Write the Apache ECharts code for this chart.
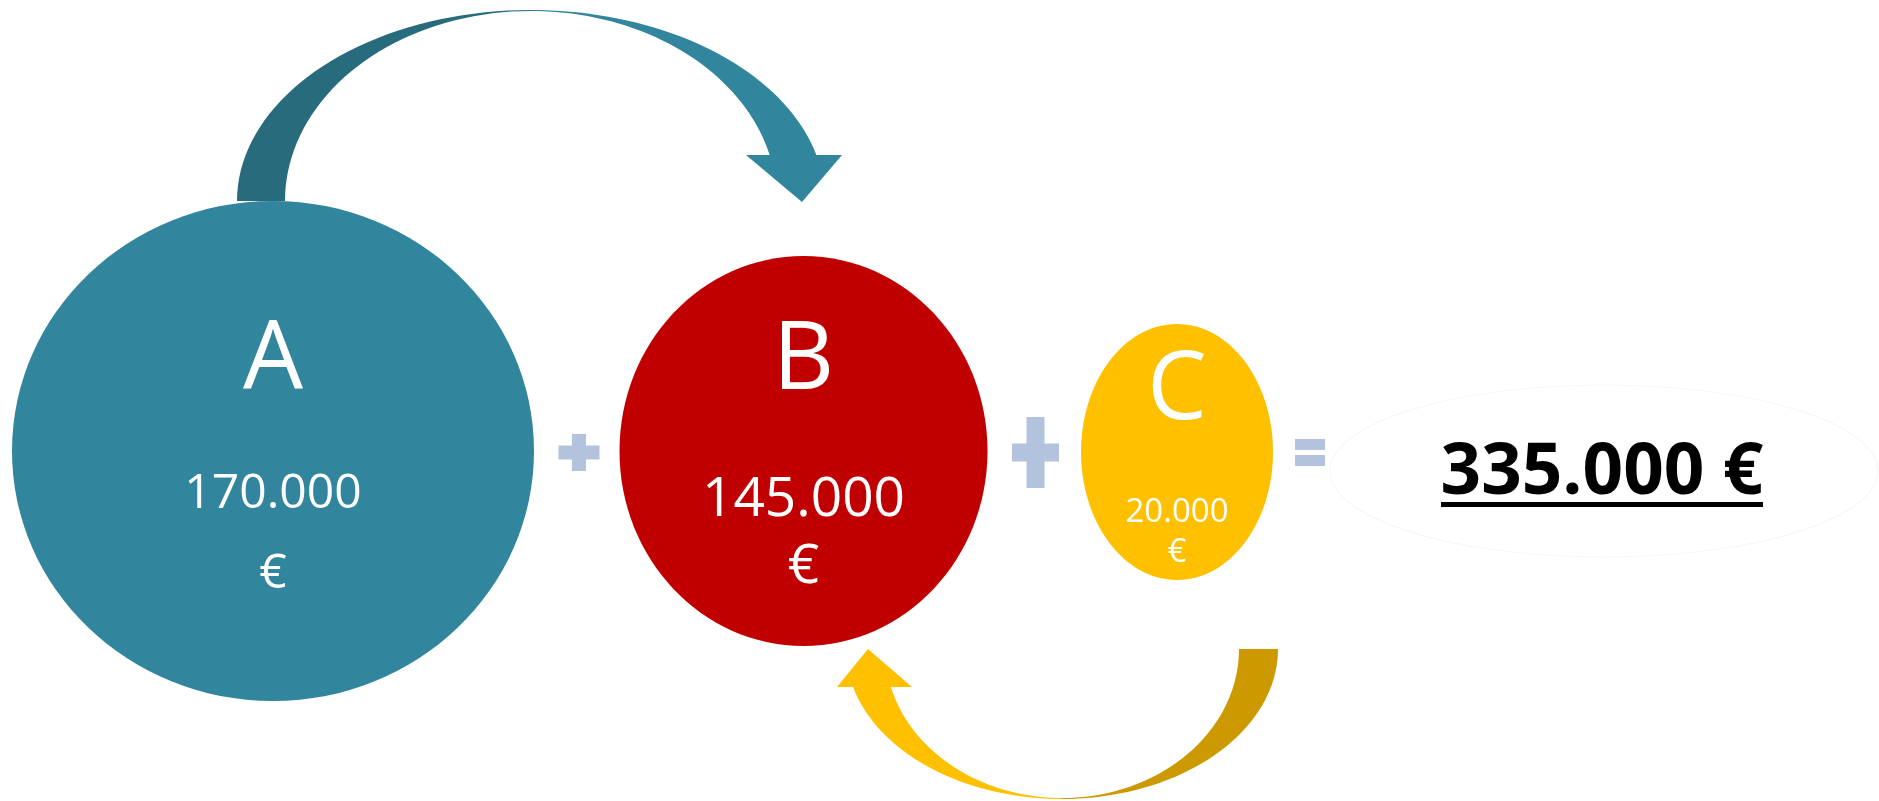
<!DOCTYPE html>
<html><head><meta charset="utf-8">
<script src="https://cdn.jsdelivr.net/npm/echarts@6/dist/echarts.min.js"></script>
<style>html,body{margin:0;padding:0;background:#fff;overflow:hidden}#c{width:1879px;height:801px}</style>
</head><body><div id="c"></div>
<script>
// ---- data ----
const categories = ['A', 'B', 'C'];
const values = [170000, 145000, 20000];
const operators = ['+', '+', '='];
const flows = [['A', 'B'], ['C', 'B']];
const currency = '€';

// ---- layout & style (hidden axes use pixel units) ----
const W = 1879, H = 801;
const FONT = '"Open Sans", "Liberation Sans", sans-serif';
const bubbleLayout = [
  { cx: 273, cy: 451, rx: 261, ry: 250, letterDy: -89, valueDy: 43, euroDy: 123, letterSize: 95, valueSize: 48 },
  { cx: 803.5, cy: 451, rx: 184, ry: 195, letterDy: -89, valueDy: 49, euroDy: 116, letterSize: 95, valueSize: 55 },
  { cx: 1177, cy: 452, rx: 96, ry: 128, letterDy: -60, valueDy: 61, euroDy: 101, letterSize: 95, valueSize: 33 }
];
const bubbleColors = ['#31859C', '#C00000', '#FFC000'];
const arrowLayout = [
  { cx: 531, cy: 201, orx: 294, ory: 191, irx: 246, iry: 190, dir: -1, endY: 155,
    head: [[842, 155], [802, 202], [746, 155]], tailColor: '#286B7D', headColor: '#31859C', tailSide: -1 },
  { cx: 1062, cy: 649, orx: 216, ory: 150, irx: 177, iry: 149, dir: 1, endY: 687,
    head: [[837, 687], [868, 649], [912, 687]], tailColor: '#CC9A00', headColor: '#FFC000', tailSide: 1 }
];
const opLayout = [
  { cx: 579, cy: 452.5, w: 41, h: 37, t: 14 },
  { cx: 1035.5, cy: 452.5, w: 47, h: 71, t: 18 },
  { cx: 1310, cy: 452.5, w: 30, h: 27, t: 11 }
];
const opColor = '#B4C3DD';
const totalLayout = { cx: 1602, cy: 474, size: 71, ulX0: 1441, ulX1: 1763, ulY: 502, ulH: 5,
  ecx: 1604, ecy: 471, erx: 274, ery: 86 };

function fmt(n) { return String(n).replace(/\B(?=(\d{3})+(?!\d))/g, '.'); }
const total = values.reduce((a, b) => a + b, 0);

function arcPts(L, rx, ry, a0, a1, steps) {
  const pts = [];
  for (let k = 0; k <= steps; k++) {
    const a = (a0 + (a1 - a0) * k / steps) * Math.PI / 180;
    pts.push([L.cx + rx * Math.cos(a), L.cy + L.dir * ry * Math.sin(a)]);
  }
  return pts;
}

const chart = echarts.init(document.getElementById('c'), null, { renderer: 'canvas' });
chart.setOption({
  animation: false,
  backgroundColor: '#ffffff',
  grid: { left: 0, top: 0, width: W, height: H },
  xAxis: { type: 'value', min: 0, max: W, show: false },
  yAxis: { type: 'value', min: 0, max: H, inverse: true, show: false },
  series: [
    {
      type: 'custom', coordinateSystem: 'cartesian2d', silent: true,
      data: [[0, total]],
      renderItem: function (params, api) {
        const T = totalLayout;
        const c = api.coord([T.ecx, T.ecy]);
        const s = api.size([T.erx, T.ery]);
        const t = api.coord([T.cx, T.cy]);
        const u0 = api.coord([T.ulX0, T.ulY]);
        const u1 = api.coord([T.ulX1, T.ulY + T.ulH]);
        return { type: 'group', children: [
          { type: 'ellipse', shape: { cx: c[0], cy: c[1], rx: s[0], ry: s[1] },
            style: { fill: '#ffffff', stroke: '#F7F7F7', lineWidth: 1.2 } },
          { type: 'text', x: t[0], y: t[1],
            style: { text: fmt(api.value(1)) + ' ' + currency, fill: '#000000',
              font: 'bold ' + T.size + 'px ' + FONT, align: 'center', verticalAlign: 'middle' } },
          { type: 'rect', shape: { x: u0[0], y: u0[1], width: u1[0] - u0[0], height: u1[1] - u0[1] },
            style: { fill: '#000000' } }
        ] };
      }
    },
    {
      type: 'custom', coordinateSystem: 'cartesian2d', silent: true,
      data: flows.map((f, i) => [i, categories.indexOf(f[0]), categories.indexOf(f[1])]),
      renderItem: function (params, api) {
        const L = arrowLayout[api.value(0)];
        const toPx = p => api.coord(p);
        const tailA = L.tailSide < 0 ? 180 : 0;
        const tail = arcPts(L, L.orx, L.ory, tailA, 90, 40).concat(arcPts(L, L.irx, L.iry, 90, tailA, 40));
        const headA = L.tailSide < 0 ? 0 : 180;
        const dy = Math.abs(L.endY - L.cy);
        const ao = Math.asin(dy / L.ory) * 180 / Math.PI;
        const ai = Math.asin(dy / L.iry) * 180 / Math.PI;
        const aoEnd = headA === 0 ? ao : 180 - ao;
        const aiEnd = headA === 0 ? ai : 180 - ai;
        const head = arcPts(L, L.orx, L.ory, 90, aoEnd, 40)
          .concat(L.head)
          .concat(arcPts(L, L.irx, L.iry, aiEnd, 90, 40));
        return { type: 'group', children: [
          { type: 'polygon', shape: { points: tail.map(toPx) }, style: { fill: L.tailColor } },
          { type: 'polygon', shape: { points: head.map(toPx) }, style: { fill: L.headColor } }
        ] };
      }
    },
    {
      type: 'custom', coordinateSystem: 'cartesian2d', silent: true,
      data: values.map((v, i) => [i, v]),
      renderItem: function (params, api) {
        const i = api.value(0);
        const L = bubbleLayout[i];
        const c = api.coord([L.cx, L.cy]);
        const s = api.size([L.rx, L.ry]);
        const pl = api.coord([L.cx, L.cy + L.letterDy]);
        const pv = api.coord([L.cx, L.cy + L.valueDy]);
        const pe = api.coord([L.cx, L.cy + L.euroDy]);
        const f = sz => sz + 'px ' + FONT;
        return { type: 'group', children: [
          { type: 'ellipse', shape: { cx: c[0], cy: c[1], rx: s[0], ry: s[1] }, style: { fill: bubbleColors[i] } },
          { type: 'text', x: pl[0], y: pl[1], style: { text: categories[i], fill: '#fff', font: f(L.letterSize), align: 'center', verticalAlign: 'middle' } },
          { type: 'text', x: pv[0], y: pv[1], style: { text: fmt(api.value(1)), fill: '#fff', font: f(L.valueSize), align: 'center', verticalAlign: 'middle' } },
          { type: 'text', x: pe[0], y: pe[1], style: { text: currency, fill: '#fff', font: f(L.valueSize), align: 'center', verticalAlign: 'middle' } }
        ] };
      }
    },
    {
      type: 'custom', coordinateSystem: 'cartesian2d', silent: true,
      data: operators.map((o, i) => [i]),
      renderItem: function (params, api) {
        const i = api.value(0);
        const O = opLayout[i];
        const rect = (x0, y0, x1, y1) => {
          const a = api.coord([x0, y0]), b = api.coord([x1, y1]);
          return { type: 'rect', shape: { x: a[0], y: a[1], width: b[0] - a[0], height: b[1] - a[1] }, style: { fill: opColor } };
        };
        const children = [];
        if (operators[i] === '+') {
          children.push(rect(O.cx - O.w / 2, O.cy - O.t / 2, O.cx + O.w / 2, O.cy + O.t / 2));
          children.push(rect(O.cx - O.t / 2, O.cy - O.h / 2, O.cx + O.t / 2, O.cy + O.h / 2));
        } else {
          children.push(rect(O.cx - O.w / 2, O.cy - O.h / 2, O.cx + O.w / 2, O.cy - O.h / 2 + O.t));
          children.push(rect(O.cx - O.w / 2, O.cy + O.h / 2 - O.t, O.cx + O.w / 2, O.cy + O.h / 2));
        }
        return { type: 'group', children: children };
      }
    }
  ]
});
</script></body></html>
